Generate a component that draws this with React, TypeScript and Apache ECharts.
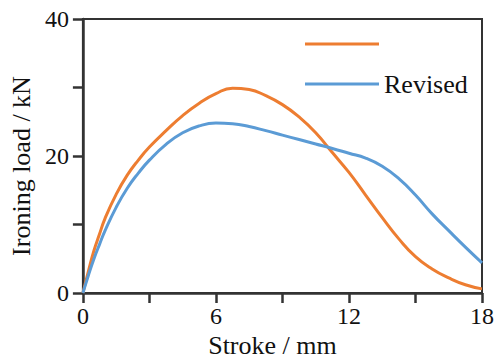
import React, { useEffect, useRef } from "react";
import * as echarts from "echarts";

const origStroke = [0, 0.25, 0.5, 0.75, 1.0, 1.5, 2.0, 2.5, 3.0, 3.75, 4.5, 5.25, 6.0, 6.75, 7.5, 8.25, 9.0, 9.75, 10.5, 11.25, 12.0, 12.75, 13.5, 14.25, 15.0, 15.75, 16.5, 17.25, 18];
const origLoad = [0, 3.2, 6.2, 8.6, 10.9, 14.4, 17.2, 19.4, 21.3, 23.7, 25.9, 27.7, 29.1, 29.9, 29.7, 28.8, 27.5, 25.7, 23.4, 20.5, 17.6, 14.3, 11.0, 7.9, 5.3, 3.5, 2.2, 1.2, 0.6];

const revStroke = [0, 0.25, 0.5, 0.75, 1.0, 1.5, 2.0, 2.5, 3.0, 3.75, 4.5, 5.25, 6.0, 6.75, 7.5, 8.25, 9.0, 9.75, 10.5, 11.25, 12.0, 12.75, 13.5, 14.25, 15.0, 15.75, 16.5, 17.25, 18];
const revLoad = [0, 2.6, 5.0, 7.1, 9.1, 12.5, 15.3, 17.5, 19.4, 21.7, 23.4, 24.4, 24.8, 24.7, 24.3, 23.7, 23.05, 22.4, 21.75, 21.1, 20.4, 19.7, 18.5, 16.7, 14.3, 11.55, 9.1, 6.7, 4.4];

const xTickLabels = [0, 6, 12, 18];
const yTickLabels = [0, 20, 40];

const FONT = "Liberation Serif, Times New Roman, serif";
const AXIS_COLOR = "#333333";
const TEXT_COLOR = "#111111";
const ORANGE = "#ED7D31";
const BLUE = "#5B9BD5";

export default function App() {
  const ref = useRef<HTMLDivElement>(null);
  useEffect(() => {
    document.body.style.margin = "0";
    const chart = echarts.init(ref.current!, null, { renderer: "svg" });
    const pair = (xs: number[], ys: number[]) => xs.map((x, i) => [x, ys[i]]);
    chart.setOption({
      animation: false,
      backgroundColor: "#ffffff",
      textStyle: { fontFamily: FONT },
      grid: {
        left: 82,
        right: 17,
        top: 19,
        bottom: 71,
        show: true,
        borderColor: AXIS_COLOR,
        borderWidth: 2,
        backgroundColor: "transparent",
      },
      legend: [
        {
          data: ["Original"],
          orient: "vertical",
          left: 300,
          top: 26,
          icon: "rect",
          itemWidth: 74,
          itemHeight: 3,
          formatter: () => " ",
          textStyle: { fontFamily: FONT, fontSize: 26, color: TEXT_COLOR },
        },
        {
          data: ["Revised"],
          orient: "vertical",
          left: 300,
          top: 66,
          icon: "rect",
          itemWidth: 74,
          itemHeight: 3,
          itemGap: 0,
          textStyle: { fontFamily: FONT, fontSize: 26, color: TEXT_COLOR },
        },
      ],
      xAxis: {
        type: "value",
        min: 0,
        max: 18,
        interval: 3,
        name: "Stroke / mm",
        nameLocation: "middle",
        nameGap: 39,
        nameTextStyle: { fontFamily: FONT, fontSize: 26, color: TEXT_COLOR, padding: [0, 20, 0, 0] },
        axisLine: { lineStyle: { color: AXIS_COLOR, width: 2.5 } },
        axisTick: { length: 10, lineStyle: { color: AXIS_COLOR, width: 2.5 } },
        axisLabel: {
          fontFamily: FONT,
          fontSize: 24,
          color: TEXT_COLOR,
          margin: 11,
          formatter: (v: number) => (xTickLabels.includes(v) ? String(v) : ""),
        },
        splitLine: { show: false },
      },
      yAxis: {
        type: "value",
        min: 0,
        max: 40,
        interval: 10,
        name: "Ironing load / kN",
        nameLocation: "middle",
        nameGap: 42,
        nameRotate: 90,
        nameTextStyle: { fontFamily: FONT, fontSize: 26, color: TEXT_COLOR, padding: [0, 20, 0, 0] },
        axisLine: { show: true, lineStyle: { color: AXIS_COLOR, width: 2.5 } },
        axisTick: { show: true, length: 10, lineStyle: { color: AXIS_COLOR, width: 2.5 } },
        axisLabel: {
          fontFamily: FONT,
          fontSize: 24,
          color: TEXT_COLOR,
          margin: 14,
          formatter: (v: number) => (yTickLabels.includes(v) ? String(v) : ""),
        },
        splitLine: { show: false },
      },
      series: [
        {
          name: "Original",
          type: "line",
          smooth: 0.5,
          showSymbol: false,
          data: pair(origStroke, origLoad),
          lineStyle: { color: ORANGE, width: 3 },
          itemStyle: { color: ORANGE },
        },
        {
          name: "Revised",
          type: "line",
          smooth: 0.5,
          showSymbol: false,
          data: pair(revStroke, revLoad),
          lineStyle: { color: BLUE, width: 3 },
          itemStyle: { color: BLUE },
        },
      ],
    });
    return () => chart.dispose();
  }, []);
  return <div ref={ref} style={{ position: "absolute", left: 0, top: 0, width: 499, height: 364 }} />;
}
